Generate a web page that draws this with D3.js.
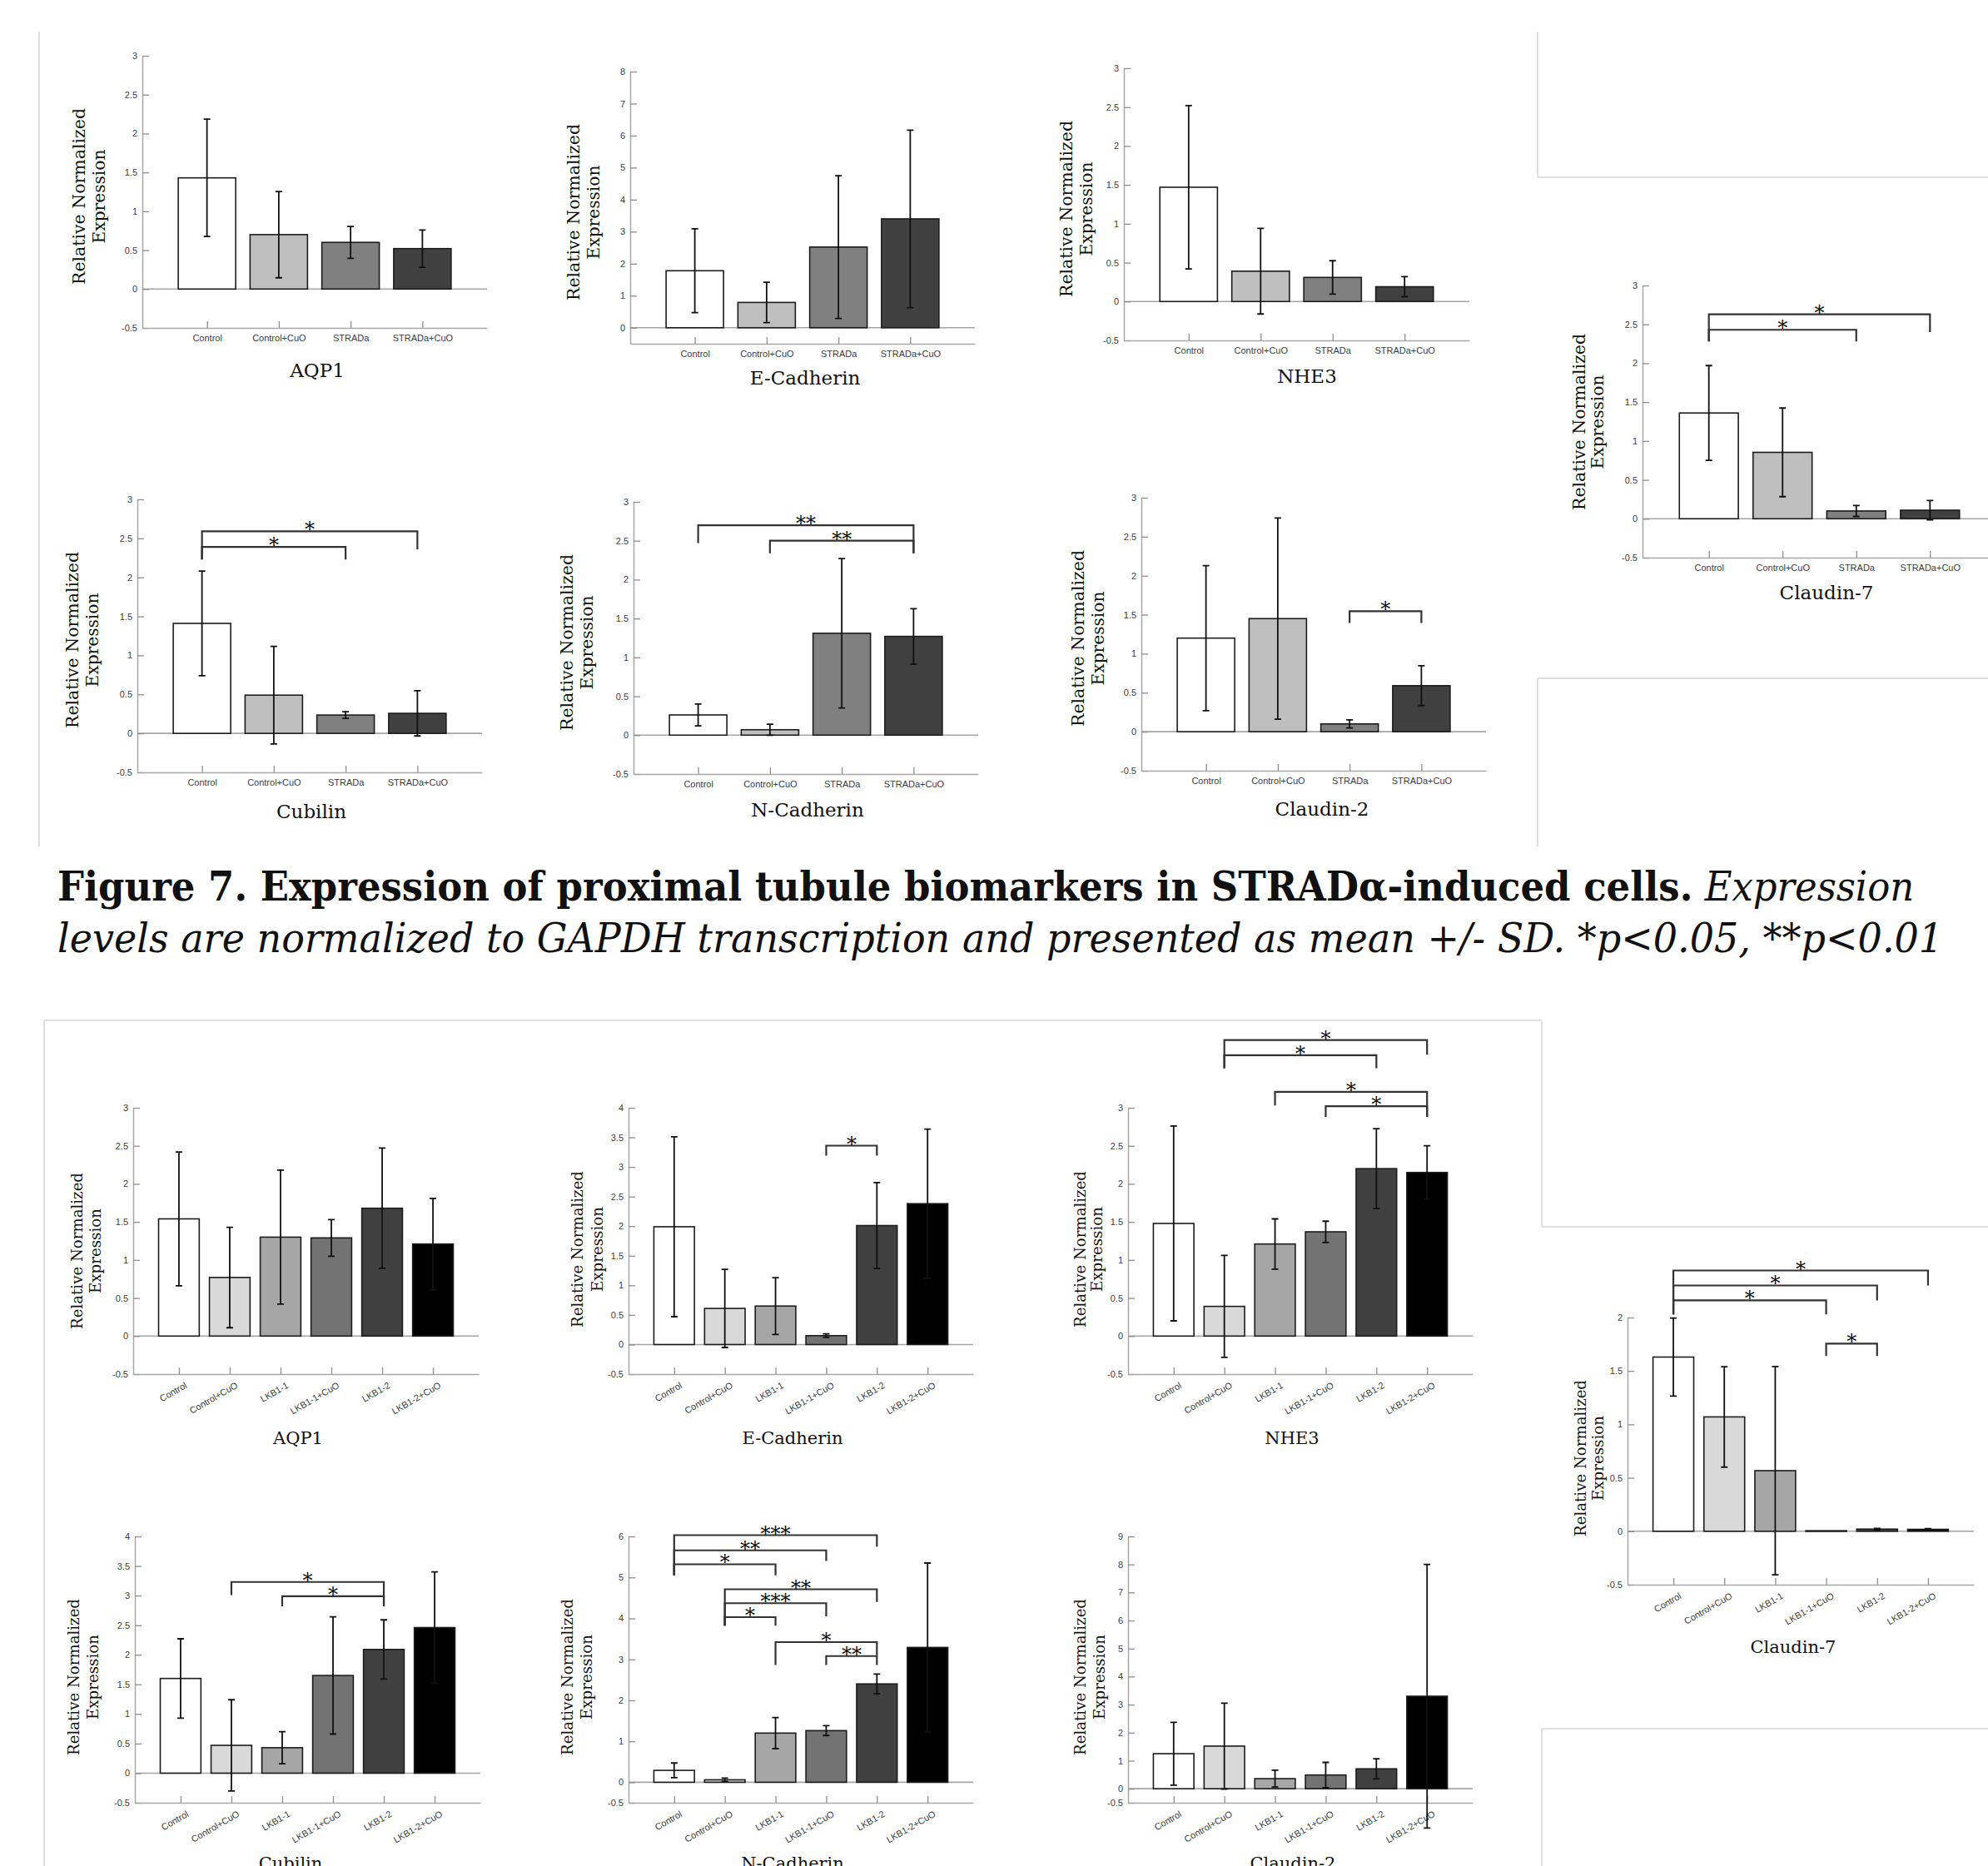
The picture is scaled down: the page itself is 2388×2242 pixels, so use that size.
<!DOCTYPE html>
<html><head><meta charset="utf-8">
<script src="https://cdn.jsdelivr.net/npm/d3@7"></script>
<style>body{margin:0;background:#fff}svg{display:block}</style>
</head><body>
<svg id="fig" width="2388" height="2242"></svg>
<script>
// ---------- categories & fills ----------
const catsS = ["Control","Control+CuO","STRADa","STRADa+CuO"];
const catsL = ["Control","Control+CuO","LKB1-1","LKB1-1+CuO","LKB1-2","LKB1-2+CuO"];
const fillsS = ["#ffffff","#bfbfbf","#808080","#404040"];
const fillsL = ["#ffffff","#d9d9d9","#a6a6a6","#737373","#404040","#000000"];

// ---------- tick values ----------
const ticksHalf3 = [-0.5,0,0.5,1,1.5,2,2.5,3];
const ticksEcadS = [0,1,2,3,4,5,6,7,8];
const ticksHalf4 = [-0.5,0,0.5,1,1.5,2,2.5,3,3.5,4];
const ticksHalf2 = [-0.5,0,0.5,1,1.5,2];
const ticksNcadL = [-0.5,0,1,2,3,4,5,6];
const ticksCld2L = [-0.5,0,1,2,3,4,5,6,7,8,9];

// ---------- STRADa series (mean, SD) ----------
const aqp1S_mean = [1.43,0.70,0.60,0.52];   const aqp1S_sd = [0.755,0.555,0.205,0.24];
const ecadS_mean = [1.78,0.79,2.52,3.40];   const ecadS_sd = [1.31,0.63,2.23,2.77];
const nhe3S_mean = [1.47,0.39,0.31,0.19];   const nhe3S_sd = [1.05,0.55,0.215,0.13];
const cld7S_mean = [1.36,0.854,0.10,0.11];  const cld7S_sd = [0.61,0.57,0.07,0.125];
const cubS_mean  = [1.41,0.49,0.235,0.257]; const cubS_sd  = [0.67,0.625,0.042,0.29];
const ncadS_mean = [0.26,0.07,1.31,1.27];   const ncadS_sd = [0.14,0.07,0.96,0.355];
const cld2S_mean = [1.20,1.45,0.10,0.59];   const cld2S_sd = [0.93,1.29,0.052,0.255];

// ---------- LKB1 series (mean, SD) ----------
const aqp1L_mean = [1.54,0.77,1.30,1.29,1.68,1.21];  const aqp1L_sd = [0.88,0.66,0.88,0.24,0.79,0.60];
const ecadL_mean = [1.99,0.61,0.65,0.15,2.01,2.38];  const ecadL_sd = [1.52,0.66,0.48,0.03,0.725,1.26];
const nhe3L_mean = [1.48,0.39,1.21,1.37,2.20,2.15];  const nhe3L_sd = [1.28,0.67,0.33,0.14,0.525,0.35];
const cld7L_mean = [1.63,1.07,0.567,0.005,0.02,0.018]; const cld7L_sd = [0.365,0.47,0.975,0,0.006,0.006];
const cubL_mean  = [1.60,0.47,0.43,1.65,2.09,2.46];  const cubL_sd  = [0.67,0.77,0.27,0.99,0.50,0.94];
const ncadL_mean = [0.29,0.06,1.20,1.26,2.40,3.29];  const ncadL_sd = [0.18,0.04,0.38,0.12,0.24,2.06];
const cld2L_mean = [1.25,1.52,0.36,0.49,0.71,3.30];  const cld2L_sd = [1.12,1.53,0.30,0.45,0.36,4.70];

// ---------- significance brackets [from, to, barY, leftLegEnd, rightLegEnd, label] ----------
const cld7S_sig = [[0,3,2.63,2.28,2.40,"*"],[0,2,2.43,2.28,2.28,"*"]];
const cubS_sig  = [[0,3,2.59,2.23,2.36,"*"],[0,2,2.39,2.23,2.23,"*"]];
const ncadS_sig = [[0,3,2.70,2.47,2.34,"**"],[1,3,2.50,2.34,2.34,"**"]];
const cld2S_sig = [[2,3,1.545,1.395,1.395,"*"]];
const ecadL_sig = [[3,4,3.36,3.19,3.19,"*"]];
const nhe3L_sig = [[1,5,3.89,3.52,3.70,"*"],[1,4,3.69,3.52,3.52,"*"],[2,5,3.21,3.03,2.88,"*"],[3,5,3.02,2.88,2.88,"*"]];
const cld7L_sig = [[0,5,2.44,2.03,2.30,"*"],[0,4,2.30,2.03,2.16,"*"],[0,3,2.16,2.03,2.03,"*"],[3,4,1.755,1.64,1.64,"*"]];
const cubL_sig  = [[1,4,3.23,3.01,2.82,"*"],[2,4,2.99,2.82,2.82,"*"]];
const ncadL_sig = [[0,4,6.03,5.05,5.75,"***"],[0,3,5.66,5.05,5.40,"**"],[0,2,5.32,5.05,5.05,"*"],
                   [1,4,4.71,3.82,4.40,"**"],[1,3,4.37,3.82,4.05,"***"],[1,2,4.03,3.82,3.82,"*"],
                   [2,4,3.42,2.86,3.10,"*"],[3,4,3.08,2.86,2.86,"**"]];

// ---------- caption ----------
const capBold = "Figure 7. Expression of proximal tubule biomarkers in STRADα-induced cells.";
const capIt1 = " Expression";
const capIt2 = "levels are normalized to GAPDH transcription and presented as mean +/- SD. *p<0.05, **p<0.01";

// ---------- panel layout ----------
const cfgTop = {cats:catsS, fills:fillsS, rot:false, tfs:23, ylfs:21, yl1:212, yl2:113};
const cfgBot = {cats:catsL, fills:fillsL, rot:true, tfs:21, ylfs:19, yl1:188, yl2:102};
const panels = [
 {...cfgTop, title:"AQP1", mean:aqp1S_mean, sd:aqp1S_sd, sig:[], ticks:ticksHalf3, dom:[-0.5,3], x0:171, x1:585, yT:67, yB:394, tx:381, ty:453, ylab:[95,119,236]},
 {...cfgTop, title:"E-Cadherin", mean:ecadS_mean, sd:ecadS_sd, sig:[], ticks:ticksEcadS, dom:[-0.5,8], x0:757, x1:1171, yT:86, yB:413, tx:967, ty:462, ylab:[689,713,255]},
 {...cfgTop, title:"NHE3", mean:nhe3S_mean, sd:nhe3S_sd, sig:[], ticks:ticksHalf3, dom:[-0.5,3], x0:1350, x1:1765, yT:82, yB:409, tx:1570, ty:460, ylab:[1281,1305,251]},
 {...cfgTop, title:"Claudin-7", mean:cld7S_mean, sd:cld7S_sd, sig:cld7S_sig, ticks:ticksHalf3, dom:[-0.5,3], x0:1973, x1:2398, yT:343, yB:670, tx:2194, ty:720, ylab:[1897,1919,507]},
 {...cfgTop, title:"Cubilin", mean:cubS_mean, sd:cubS_sd, sig:cubS_sig, ticks:ticksHalf3, dom:[-0.5,3], x0:165, x1:579, yT:600, yB:928, tx:374, ty:983, ylab:[87,111,769]},
 {...cfgTop, title:"N-Cadherin", mean:ncadS_mean, sd:ncadS_sd, sig:ncadS_sig, ticks:ticksHalf3, dom:[-0.5,3], x0:761, x1:1175, yT:603, yB:930, tx:970, ty:981, ylab:[681,705,772]},
 {...cfgTop, title:"Claudin-2", mean:cld2S_mean, sd:cld2S_sd, sig:cld2S_sig, ticks:ticksHalf3, dom:[-0.5,3], x0:1371, x1:1785, yT:598, yB:926, tx:1588, ty:980, ylab:[1295,1319,767]},
 {...cfgBot, title:"AQP1", mean:aqp1L_mean, sd:aqp1L_sd, sig:[], ticks:ticksHalf3, dom:[-0.5,3], x0:160, x1:575, yT:1331, yB:1651, tx:358, ty:1735, ylab:[92,114,1503]},
 {...cfgBot, title:"E-Cadherin", mean:ecadL_mean, sd:ecadL_sd, sig:ecadL_sig, ticks:ticksHalf4, dom:[-0.5,4], x0:755, x1:1169, yT:1331, yB:1651, tx:952, ty:1735, ylab:[693,717,1501]},
 {...cfgBot, title:"NHE3", mean:nhe3L_mean, sd:nhe3L_sd, sig:nhe3L_sig, ticks:ticksHalf3, dom:[-0.5,3], x0:1355, x1:1769, yT:1331, yB:1651, tx:1552, ty:1735, ylab:[1297,1317,1501]},
 {...cfgBot, title:"Claudin-7", mean:cld7L_mean, sd:cld7L_sd, sig:cld7L_sig, ticks:ticksHalf2, dom:[-0.5,2], x0:1955, x1:2371, yT:1583, yB:1904, tx:2154, ty:1986, ylab:[1898,1919,1752]},
 {...cfgBot, title:"Cubilin", mean:cubL_mean, sd:cubL_sd, sig:cubL_sig, ticks:ticksHalf4, dom:[-0.5,4], x0:162, x1:577, yT:1846, yB:2166, tx:349, ty:2246, ylab:[88,111,2015]},
 {...cfgBot, title:"N-Cadherin", mean:ncadL_mean, sd:ncadL_sd, sig:ncadL_sig, ticks:ticksNcadL, dom:[-0.5,6], x0:755, x1:1169, yT:1846, yB:2166, tx:952, ty:2246, ylab:[681,704,2015]},
 {...cfgBot, title:"Claudin-2", mean:cld2L_mean, sd:cld2L_sd, sig:[], ticks:ticksCld2L, dom:[-0.5,9], x0:1355, x1:1769, yT:1846, yB:2166, tx:1553, ty:2246, ylab:[1297,1320,2015]}
];

const svg = d3.select("#fig");
svg.append("rect").attr("width",2388).attr("height",2242).attr("fill","#fff");

// frame lines
const frame = [
 [47,38,47,1017],[1847,38,1847,213],[1847,213,2388,213],[1847,815,2388,815],[1847,815,1847,1017],
 [53,1226,1852,1226],[53,1226,53,2242],[1852,1226,1852,1474],[1852,1474,2388,1474],[1852,2077,2388,2077],[1852,2077,1852,2242]
];
svg.selectAll("line.frame").data(frame).join("line").attr("class","frame")
  .attr("x1",d=>d[0]).attr("y1",d=>d[1]).attr("x2",d=>d[2]).attr("y2",d=>d[3])
  .attr("stroke","#d6d6d6").attr("stroke-width",1.5);

const serif = "DejaVu Serif, Liberation Serif, serif";
const sans = "Liberation Sans, Arial, Helvetica, sans-serif";

function drawPanel(p){
  const n = p.cats.length;
  const x = d3.scaleLinear().domain([0.1, n + 0.9]).range([p.x0, p.x1]);
  const y = d3.scaleLinear().domain(p.dom).range([p.yB, p.yT]);
  const bw = 0.8 * (x(2) - x(1));
  const g = svg.append("g");

  g.append("line").attr("x1",p.x0).attr("x2",p.x1).attr("y1",y(0)).attr("y2",y(0))
    .attr("stroke","#a5a5a5").attr("stroke-width",1.6);

  const ya = g.append("g").attr("transform",`translate(${p.x0},0)`)
    .call(d3.axisLeft(y).tickValues(p.ticks).tickSize(-8).tickSizeOuter(0).tickPadding(6).tickFormat(d=>String(d)));
  const xa = g.append("g").attr("transform",`translate(0,${p.yB})`)
    .call(d3.axisBottom(x).tickValues(d3.range(1,n+1)).tickSize(-8).tickSizeOuter(0).tickPadding(8).tickFormat(i=>p.cats[i-1]));
  [ya,xa].forEach(a=>{
    a.select(".domain").attr("stroke","#a8a8a8").attr("stroke-width",1.5);
    a.selectAll(".tick line").attr("stroke","#8e8e8e").attr("stroke-width",1.3);
    a.selectAll(".tick text").attr("font-family",sans).attr("font-size",11).attr("fill","#3c3c3c");
  });
  if(p.rot){
    xa.selectAll(".tick text").attr("y",0).attr("dy","0.71em").attr("text-anchor","end")
      .attr("transform","translate(6,9) rotate(-30)");
  }

  g.selectAll("rect.bar").data(p.mean).join("rect").attr("class","bar")
    .attr("x",(d,i)=>x(i+1)-bw/2).attr("width",bw)
    .attr("y",d=>y(Math.max(0,d))).attr("height",d=>Math.max(0.8,Math.abs(y(d)-y(0))))
    .attr("fill",(d,i)=>p.fills[i]).attr("stroke","#1c1c1c").attr("stroke-width",1.6);

  const cap = 4;
  g.selectAll("path.err").data(p.mean.map((m,i)=>({m,s:p.sd[i],i})).filter(d=>d.s>0)).join("path").attr("class","err")
    .attr("d",d=>{const cx=x(d.i+1), a=y(d.m+d.s), b=y(d.m-d.s);
      return `M${cx},${a}V${b}M${cx-cap},${a}H${cx+cap}M${cx-cap},${b}H${cx+cap}`;})
    .attr("stroke","#111").attr("stroke-width",1.8).attr("fill","none");

  p.sig.forEach(([i,j,h,l,r,lab])=>{
    g.append("path").attr("d",`M${x(i+1)},${y(l)}V${y(h)}H${x(j+1)}V${y(r)}`)
      .attr("stroke","#333").attr("stroke-width",2.2).attr("fill","none");
    g.append("text").attr("x",(x(i+1)+x(j+1))/2).attr("y",y(h)+6).attr("text-anchor","middle")
      .attr("font-family",serif).attr("font-size",24).attr("fill","#111").text(lab);
  });

  const [l1,l2,cy] = p.ylab;
  [["Relative Normalized",l1,p.yl1],["Expression",l2,p.yl2]].forEach(([t,lx,len])=>{
    g.append("text").attr("transform",`translate(${lx},${cy}) rotate(-90)`).attr("dy","0.35em")
      .attr("text-anchor","middle").attr("font-family",serif).attr("font-size",p.ylfs)
      .attr("textLength",len).attr("lengthAdjust","spacingAndGlyphs").attr("fill","#111").text(t);
  });

  g.append("text").attr("x",p.tx).attr("y",p.ty).attr("text-anchor","middle")
    .attr("font-family",serif).attr("font-size",p.tfs).attr("fill","#111").text(p.title);
}
panels.forEach(drawPanel);

// caption: natural text, horizontally scaled to the target width
function fitText(sel, x0, yb, target){
  const w = sel.node().getComputedTextLength();
  sel.attr("transform", `translate(${x0},${yb}) scale(${target / w},1)`);
}
const c1 = svg.append("text").attr("x",0).attr("y",0).attr("font-family",serif)
  .attr("font-size",48).attr("fill","#111");
c1.append("tspan").attr("font-weight","bold").text(capBold);
c1.append("tspan").attr("font-style","italic").text(capIt1);
fitText(c1, 69, 1082, 2231);
const c2 = svg.append("text").attr("x",0).attr("y",0).attr("font-family",serif).attr("font-style","italic")
  .attr("font-size",48).attr("fill","#111").text(capIt2);
fitText(c2, 69, 1144, 2266);
</script>
</body></html>
